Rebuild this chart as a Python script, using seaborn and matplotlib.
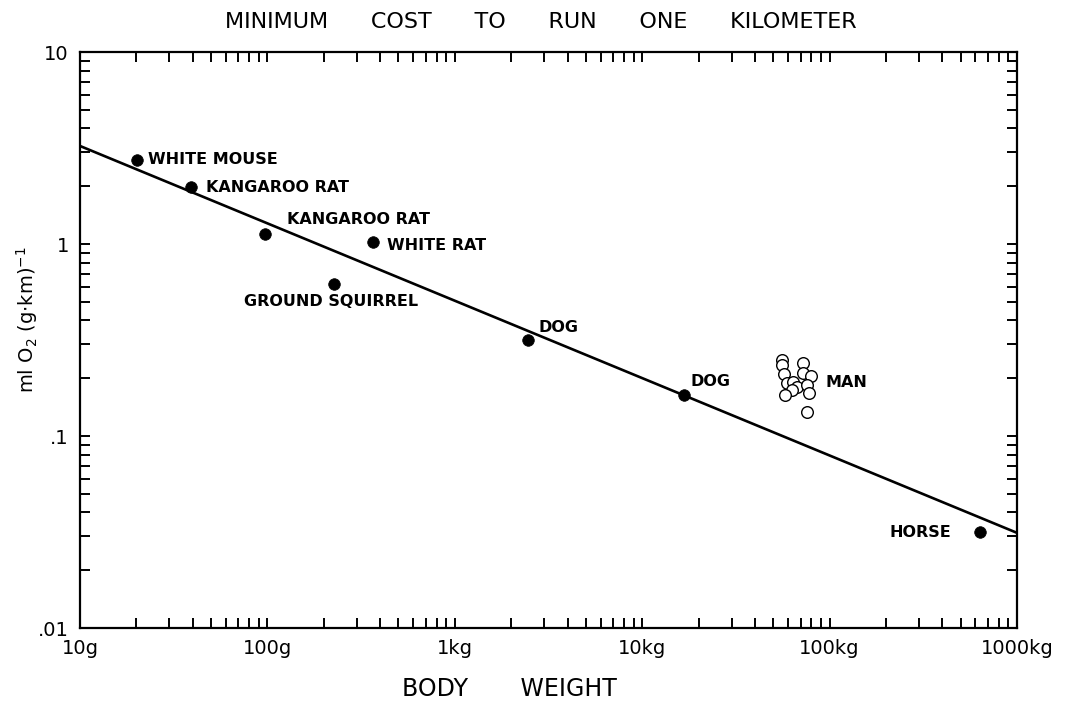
import pandas as pd
import matplotlib.pyplot as plt
import seaborn as sns
from matplotlib.ticker import LogLocator, FixedLocator, FixedFormatter, NullFormatter

# animals (body mass in kg, cost in ml O2 per g per km)
animals = ["WHITE MOUSE", "KANGAROO RAT", "KANGAROO RAT", "WHITE RAT",
           "GROUND SQUIRREL", "DOG", "DOG", "HORSE"]
animal_mass = [0.0201, 0.0391, 0.097, 0.366, 0.227, 2.46, 16.7, 635]
animal_cost = [2.74, 1.98, 1.13, 1.02, 0.619, 0.316, 0.164, 0.0316]

# label offsets in pixels (dx, dy) and alignment
label_dx = [11, 15, 22, 14, -3, 10, 7, -29]
label_dy = [0, 0, 14, -3, -18, 13, 13, 0]
label_ha = ["left", "left", "left", "left", "center", "left", "left", "right"]

# man (open circles)
man_mass = [55.7, 55.7, 57.1, 72.1, 72.1, 79.6, 59.3, 63.8, 67.0, 63.0,
            75.7, 57.8, 77.6, 75.7]
man_cost = [0.249, 0.234, 0.210, 0.240, 0.213, 0.205, 0.189, 0.191, 0.180,
            0.174, 0.184, 0.164, 0.168, 0.133]

# fitted line endpoints
line_mass = [0.01, 1000]
line_cost = [3.24, 0.0313]

x_ticks = [0.01, 0.1, 1, 10, 100, 1000]
x_labels = ["10g", "100g", "1kg", "10kg", "100kg", "1000kg"]
y_ticks = [0.01, 0.1, 1, 10]
y_labels = [".01", ".1", "1", "10"]

sns.set_style("ticks")
plt.rcParams['font.family'] = ['DejaVu Sans']
plt.rcParams['text.color'] = 'black'
plt.rcParams['xtick.color'] = 'black'
plt.rcParams['ytick.color'] = 'black'

fig = plt.figure(figsize=(10.89, 7.05), dpi=100)
ax = fig.add_axes([80 / 1089, 1 - 628 / 705, 937 / 1089, 576 / 705])

df_line = pd.DataFrame({"mass": line_mass, "cost": line_cost})
sns.lineplot(data=df_line, x="mass", y="cost", color="black", linewidth=1.9, ax=ax)

df_a = pd.DataFrame({"mass": animal_mass, "cost": animal_cost})
sns.scatterplot(data=df_a, x="mass", y="cost", color="black", s=70,
                edgecolor="black", linewidth=0.5, ax=ax, zorder=3)

df_m = pd.DataFrame({"mass": man_mass, "cost": man_cost})
sns.scatterplot(data=df_m, x="mass", y="cost", facecolor="white", s=70,
                edgecolor="black", linewidth=1.0, ax=ax, zorder=3)

ax.set_xscale("log")
ax.set_yscale("log")
ax.set_xlim(0.01, 1000)
ax.set_ylim(0.01, 10)

for name, m, c, dx, dy, ha in zip(animals, animal_mass, animal_cost,
                                  label_dx, label_dy, label_ha):
    ax.annotate(name, (m, c), xytext=(dx, dy), textcoords="offset pixels",
                ha=ha, va="center", fontsize=11.5, fontweight="bold")
ax.annotate("MAN", (max(man_mass), 0.191), xytext=(14, 0), textcoords="offset pixels",
            ha="left", va="center", fontsize=11.5, fontweight="bold")

ax.xaxis.set_major_locator(FixedLocator(x_ticks))
ax.xaxis.set_major_formatter(FixedFormatter(x_labels))
ax.yaxis.set_major_locator(FixedLocator(y_ticks))
ax.yaxis.set_major_formatter(FixedFormatter(y_labels))
ax.xaxis.set_minor_locator(LogLocator(base=10, subs=range(2, 10), numticks=20))
ax.yaxis.set_minor_locator(LogLocator(base=10, subs=range(2, 10), numticks=20))
ax.xaxis.set_minor_formatter(NullFormatter())
ax.yaxis.set_minor_formatter(NullFormatter())

ax.tick_params(which="both", direction="in", top=True, right=True,
               length=7, width=1.4, color="black")
ax.tick_params(which="major", labelsize=14, pad=8)
for sp in ax.spines.values():
    sp.set_linewidth(1.6)
    sp.set_color("black")

ax.set_xlabel("")
ax.set_ylabel("")

fig.text(27 / 1089, 1 - 320 / 705, r"ml O$_2$ (g$\cdot$km)$^{-1}$",
         rotation=90, ha="center", va="center", fontsize=14)
fig.text(0.497, 0.969, "MINIMUM      COST      TO      RUN      ONE      KILOMETER",
         ha="center", va="center", fontsize=16)
fig.text(0.468, 0.022, "BODY       WEIGHT", ha="center", va="center", fontsize=17)

plt.savefig("out.png", dpi=100)
plt.close()
